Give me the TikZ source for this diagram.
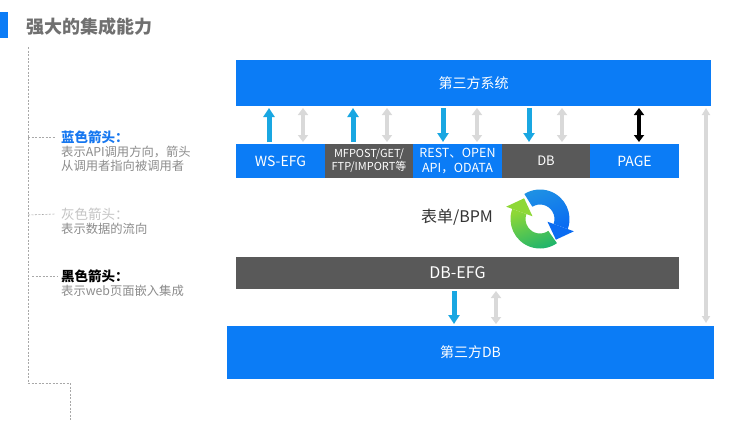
\documentclass[tikz,border=0pt]{standalone}
\usepackage{fontspec}
\setmainfont{Noto Sans CJK SC}
\usetikzlibrary{arrows.meta,calc}
\definecolor{mainblue}{HTML}{0B7CF6}
\definecolor{boxgray}{HTML}{595959}
\definecolor{arrblue}{HTML}{19A7E2}
\definecolor{arrgray}{HTML}{D9D9D9}
\definecolor{titlegray}{HTML}{707070}
\definecolor{legblue}{HTML}{1677F0}
\definecolor{legbody}{HTML}{8C8C8C}
\definecolor{leglight}{HTML}{C4C4C4}
\definecolor{dashgray}{HTML}{A8A8A8}
\definecolor{gTeal}{HTML}{1FB46C}
\definecolor{gLime}{HTML}{8ED836}
\definecolor{bLight}{HTML}{1E90E4}
\definecolor{bDeep}{HTML}{0A6CF2}
\begin{document}
\begin{tikzpicture}[x=1pt,y=-1pt,
  cell/.style={anchor=north west,inner sep=0pt,outer sep=0pt,text=white,align=center},
  bluecell/.style={cell,fill=mainblue},
  graycell/.style={cell,fill=boxgray},
  apiarrow/.style={draw=arrblue,line width=5pt,-{Triangle[width=11pt,length=9pt]},shorten <=2pt,shorten >=2pt},
  dataarrow/.style={draw=arrgray,line width=4pt,{Triangle[width=10pt,length=7pt]}-{Triangle[width=10pt,length=7pt]},shorten <=2pt,shorten >=2pt},
  pagearrow/.style={draw=black,line width=4pt,{Triangle[width=10pt,length=7pt]}-{Triangle[width=10pt,length=7pt]},shorten <=2pt,shorten >=2pt},
  longarrow/.style={draw=arrgray,line width=4pt,{Triangle[width=8pt,length=7pt]}-{Triangle[width=8pt,length=7pt]}},
  dashline/.style={draw=dashgray,line width=0.6pt,dash pattern=on 2pt off 1.5pt},
  leghead/.style={anchor=west,inner sep=0pt,font=\fontsize{13.5}{16}\selectfont\bfseries},
  legtext/.style={anchor=north west,inner sep=0pt,align=left,text=legbody,font=\fontsize{12.3}{14}\selectfont}
]
\useasboundingbox (0,0) rectangle (750,421);
\fill[white] (0,0) rectangle (750,421);

% title
\fill[mainblue] (0,12) rectangle (8,38);
\node[anchor=west,inner sep=0pt,text=titlegray,font=\fontsize{18}{20}\selectfont\bfseries] (title) at (26,27) {强大的集成能力};

% boxes
\node[bluecell,minimum width=475pt,minimum height=46pt,font=\fontsize{14}{16}\selectfont] (sys) at (236,60) {第三方系统};
\node[bluecell,minimum width=89pt,minimum height=34pt,font=\fontsize{14}{16}\selectfont] (ws) at (236,144) {WS-EFG};
\node[graycell,minimum width=88pt,minimum height=34pt,font=\fontsize{11}{13}\selectfont] (mf) at (325,144) {MFPOST/GET/\\FTP/IMPORT等};
\node[bluecell,minimum width=89pt,minimum height=34pt,font=\fontsize{12.5}{14.5}\selectfont] (rest) at (413,144) {REST、OPEN\\API，ODATA};
\node[graycell,minimum width=88pt,minimum height=34pt,font=\fontsize{13}{15}\selectfont] (db) at (502,144) {DB};
\node[bluecell,minimum width=89pt,minimum height=34pt,font=\fontsize{14}{16}\selectfont] (page) at (590,144) {PAGE};
\node[graycell,minimum width=443pt,minimum height=32pt,font=\fontsize{16}{18}\selectfont] (dbefg) at (236,257) {DB-EFG};
\node[bluecell,minimum width=487pt,minimum height=53pt,font=\fontsize{14}{16}\selectfont] (tdb) at (227,326) {第三方DB};
\node[inner sep=0pt,text=black!80,font=\fontsize{16}{18}\selectfont] (bpm) at (457,217) {表单/BPM};

% arrows between third-party system and row
\draw[apiarrow] (ws.north -| 269,0) -- (sys.south -| 269,0);
\draw[dataarrow] (ws.north -| 303,0) -- (sys.south -| 303,0);
\draw[apiarrow] (mf.north -| 353,0) -- (sys.south -| 353,0);
\draw[dataarrow] (mf.north -| 387,0) -- (sys.south -| 387,0);
\draw[apiarrow] (sys.south -| 443,0) -- (rest.north -| 443,0);
\draw[dataarrow] (rest.north -| 477,0) -- (sys.south -| 477,0);
\draw[apiarrow] (sys.south -| 529,0) -- (db.north -| 529,0);
\draw[dataarrow] (db.north -| 562,0) -- (sys.south -| 562,0);
\draw[pagearrow] (page.north -| 639,0) -- (sys.south -| 639,0);
% long arrow
\coordinate (ltop) at (706,108);
\coordinate (lbot) at (706,323);
\draw[longarrow] (ltop) -- (lbot);
% lower arrows
\draw[apiarrow] (dbefg.south -| 454,0) -- (tdb.north -| 454,0);
\draw[dataarrow] (dbefg.south -| 496,0) -- (tdb.north -| 496,0);

% cycle icon
\begin{scope}[shift={(540,219)},y=1pt]
  \shade[top color=gLime,bottom color=gTeal,shading angle=20]
    (160:29.5) arc[start angle=160,end angle=305,radius=29.5]
    -- (305:14.5) arc[start angle=305,end angle=160,radius=14.5] -- cycle;
  \shade[top color=bLight,bottom color=bDeep,shading angle=20]
    (-20:29.5) arc[start angle=-20,end angle=122,radius=29.5]
    -- (122:14.5) arc[start angle=122,end angle=-20,radius=14.5] -- cycle;
  \fill[bDeep] (-20:8) -- (-20:36) -- ($(-20:22)+(-110:14)$) -- cycle;
  \fill[gLime] (160:8) -- (160:36) -- ($(160:22)+(70:14)$) -- cycle;
\end{scope}

% legend
\node[leghead,text=legblue] (l1) at (61,137) {蓝色箭头：};
\node[legtext] (l1t) at (61,146) {表示API调用方向，箭头\\从调用者指向被调用者};
\node[leghead,text=leglight,font=\fontsize{13.5}{16}\selectfont] (l2) at (61,214) {灰色箭头：};
\node[legtext] (l2t) at (61,223) {表示数据的流向};
\node[leghead,text=black] (l3) at (61,276) {黑色箭头：};
\node[legtext] (l3t) at (61,285) {表示web页面嵌入集成};

% dashed guide lines
\coordinate (dtop) at (28,47);
\coordinate (dcorner) at (28,383);
\coordinate (dturn) at (70,383);
\coordinate (dend) at (70,421);
\draw[dashline] (dtop) -- (dcorner) -- (dturn) -- (dend);
\draw[dashline] (28,137) -- ([xshift=-6pt]l1.west);
\draw[dashline] (28,215) -- ([xshift=-6pt]l2.west);
\draw[dashline] (32,276) -- ([xshift=-3pt]l3.west);
\end{tikzpicture}
\end{document}
